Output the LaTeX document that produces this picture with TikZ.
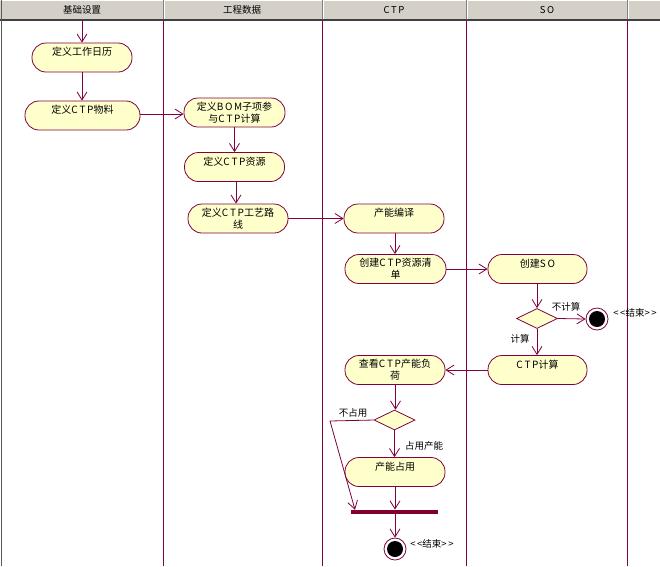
\documentclass[tikz,border=0pt]{standalone}
\usepackage{fontspec}
\setmainfont{Noto Sans CJK SC}
\usetikzlibrary{arrows.meta,shapes.geometric}
\definecolor{lane}{RGB}{128,0,64}
\definecolor{actfill}{RGB}{255,255,204}
\definecolor{hdr}{RGB}{212,208,200}
\definecolor{hdrdark}{RGB}{64,64,64}
\definecolor{barcol}{RGB}{128,0,48}
\begin{document}
\begin{tikzpicture}[x=1pt,y=-1pt,
  every node/.style={font=\fontsize{10}{12}\selectfont},
  act/.style={draw=lane, fill=actfill, line width=0.8pt, rectangle,
    rounded corners=14pt, inner sep=0pt, minimum height=29pt,
    minimum width=#1, align=center},
  act/.default=100pt,
  decision/.style={draw=lane, fill=actfill, line width=0.8pt, diamond,
    inner sep=0pt, minimum width=41pt, minimum height=20pt},
  final/.style={draw=lane, fill=white, line width=0.8pt, circle,
    inner sep=0pt, minimum size=22pt},
  arr/.style={draw=lane, line width=0.8pt,
    -{Straight Barb[length=8pt,width=10pt,line width=0.8pt]}},
  lanesep/.style={draw=lane, line width=1pt},
  lbl/.style={inner sep=0pt, font=\fontsize{9.5}{11}\selectfont},
  hdrtext/.style={inner sep=0pt, font=\fontsize{9.5}{11}\selectfont}]

\useasboundingbox (0,0) rectangle (660,566);
\fill[white] (0,0) rectangle (660,566);

% header bar with lane titles
\fill[hdr] (0,0) rectangle (660,19);
\draw[white, line width=1pt] (0,0.5) -- (660,0.5);
\draw[hdrdark, line width=2pt] (0,20) -- (660,20);
\foreach \x in {163,322,466,627} {
  \draw[gray, line width=1pt] (\x,0) -- (\x,19);
  \draw[white, line width=1pt] (\x+1.2,0) -- (\x+1.2,19);
}
\draw[gray!70!black, line width=1.5pt] (1.5,0) -- (1.5,566);
\node[hdrtext] (h1) at (82,10) {基础设置};
\node[hdrtext] (h2) at (242,10) {工程数据};
\node[hdrtext] (h3) at (394,10) {C\,T\,P};
\node[hdrtext] (h4) at (547,10) {S\,O};

% swimlane separators
\foreach \x in {163,322,466,627}
  \draw[lanesep] (\x,21) -- (\x,566);

% activities
\node[act] (n1) at (82,57.5) {定义工作日历\\\mbox{}};
\node[act=115pt] (n2) at (82.5,115.5) {定义C\,T\,P物料\\\mbox{}};
\node[act=101pt] (n3) at (234.5,112.5) {定义B\,O\,M子项参\\与C\,T\,P计算};
\node[act] (n4) at (234.5,167) {定义C\,T\,P资源\\\mbox{}};
\node[act] (n5) at (238,218.5) {定义C\,T\,P工艺路\\线};
\node[act] (n6) at (394,218.5) {产能编译\\\mbox{}};
\node[act=101pt] (n7) at (395.5,269) {创建C\,T\,P资源清\\单};
\node[act=99pt] (n8) at (537.5,269) {创建S\,O\\\mbox{}};
\node[decision] (d1) at (537,318.5) {};
\node[final] (e1) at (597,319) {};
\fill[black] (e1) circle (8pt);
\node[act=99pt] (n9) at (537.5,370) {C\,T\,P计算\\\mbox{}};
\node[act] (n10) at (395,370) {查看C\,T\,P产能负\\荷};
\node[decision] (d2) at (394.5,420) {};
\node[act] (n11) at (395,472) {产能占用\\\mbox{}};
\node[fill=barcol, inner sep=0pt, minimum width=87pt, minimum height=4.5pt]
  (bar) at (394.5,512) {};
\node[final] (e2) at (395,549) {};
\fill[black] (e2) circle (8pt);

% free ends of connectors
\coordinate (start) at (82,21);
\coordinate (bend) at (330,421);
\coordinate (barL) at (355,509.75);

% control flow
\draw[arr] (start) -- (n1.north);
\draw[arr] (n1.south) -- (n2.north -| n1.south);
\draw[arr] (n2.east |- 0,114) -- (n3.west |- 0,114);
\draw[arr] (n3.south) -- (n4.north -| n3.south);
\draw[arr] (n4.south -| 236,0) -- (n5.north -| 236,0);
\draw[arr] (n5.east) -- (n6.west);
\draw[arr] (n6.south -| 395,0) -- (n7.north -| 395,0);
\draw[arr] (n7.east) -- (n8.west);
\draw[arr] (n8.south -| d1.north) -- (d1.north);
\draw[arr] (d1.east) -- (e1.west);
\draw[arr] (d1.south) -- (n9.north -| d1.south);
\draw[arr] (n9.west) -- (n10.east);
\draw[arr] (n10.south -| 395.5,0) -- (d2.north -| 395.5,0);
\draw[arr] (d2.south) -- (n11.north -| d2.south);
\draw[arr] (d2.west) -- (bend) -- (barL);
\draw[arr] (n11.south) -- (bar.north -| n11.south);
\draw[arr] (bar.south -| e2.north) -- (e2.north);

% guard and stereotype labels
\node[lbl] (g1) at (566,307) {不计算};
\node[lbl] (g2) at (520,339) {计算};
\node[lbl] (s1) at (635,313) {<\hspace{1.5pt}<结束>\hspace{1.5pt}>};
\node[lbl] (g3) at (353,413) {不占用};
\node[lbl] (g4) at (424,446) {占用产能};
\node[lbl] (s2) at (432,544) {<\hspace{1.5pt}<结束>\hspace{1.5pt}>};
\end{tikzpicture}
\end{document}
